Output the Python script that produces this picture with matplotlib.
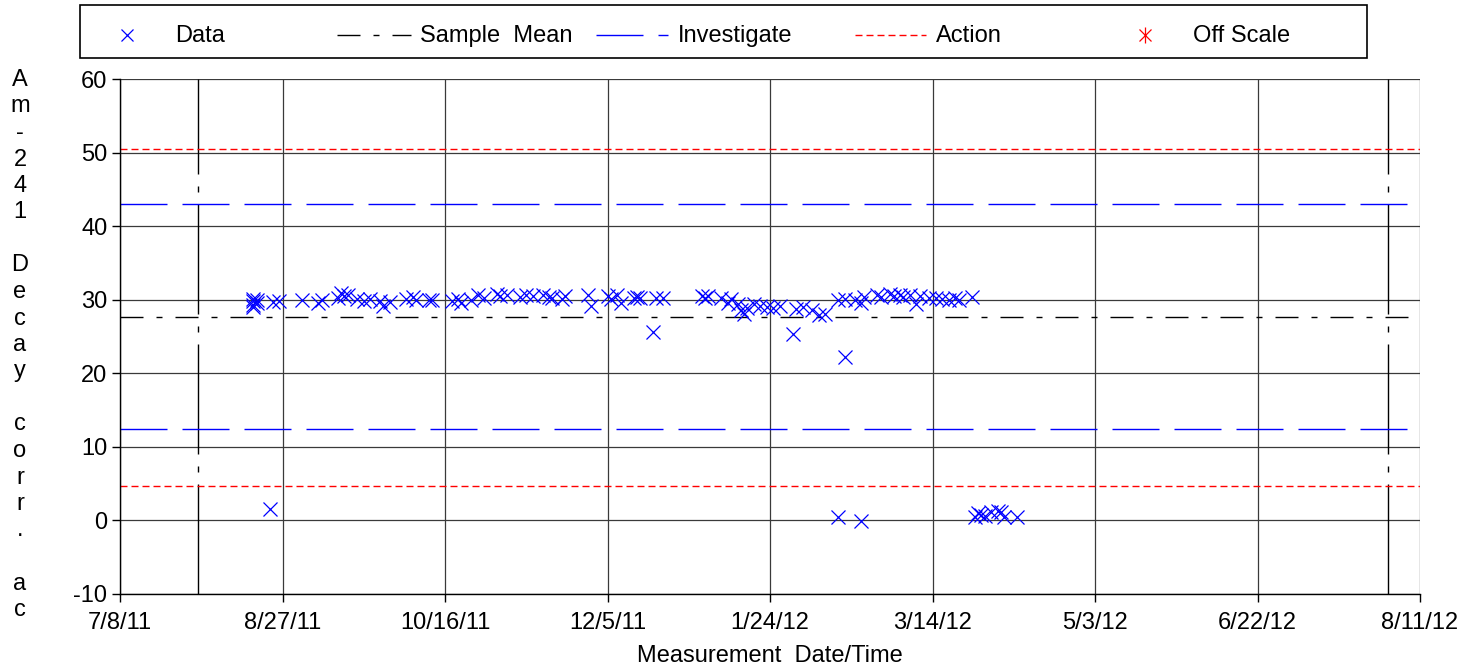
import matplotlib
matplotlib.use("Agg")
import matplotlib.pyplot as plt
from matplotlib.patches import Rectangle
from matplotlib.lines import Line2D
import datetime as dt

plt.rcParams['font.family'] = ['Liberation Sans', 'DejaVu Sans']

# ---------------- data ----------------
dates = ["2011-08-18", "2011-08-18", "2011-08-18", "2011-08-19", "2011-08-18", "2011-08-19",
         "2011-08-23", "2011-08-24", "2011-08-26", "2011-09-02", "2011-09-07", "2011-09-08",
         "2011-09-13", "2011-09-14", "2011-09-15", "2011-09-16", "2011-09-19", "2011-09-21",
         "2011-09-23", "2011-09-26", "2011-09-27", "2011-09-29", "2011-10-04", "2011-10-06",
         "2011-10-07", "2011-10-11", "2011-10-12", "2011-10-18", "2011-10-20", "2011-10-21",
         "2011-10-24", "2011-10-26", "2011-10-28", "2011-11-01", "2011-11-02", "2011-11-04",
         "2011-11-08", "2011-11-10", "2011-11-12", "2011-11-15", "2011-11-17", "2011-11-18",
         "2011-11-21", "2011-11-22", "2011-11-29", "2011-11-30", "2011-12-05", "2011-12-06",
         "2011-12-08", "2011-12-09", "2011-12-13", "2011-12-14", "2011-12-15", "2011-12-19",
         "2011-12-20", "2011-12-22", "2012-01-03", "2012-01-04", "2012-01-05", "2012-01-09",
         "2012-01-11", "2012-01-12", "2012-01-14", "2012-01-15", "2012-01-16", "2012-01-17",
         "2012-01-19", "2012-01-21", "2012-01-23", "2012-01-25", "2012-01-27", "2012-01-31",
         "2012-02-01", "2012-02-03", "2012-02-06", "2012-02-08", "2012-02-10", "2012-02-14",
         "2012-02-14", "2012-02-16", "2012-02-16", "2012-02-19", "2012-02-21", "2012-02-21",
         "2012-02-22", "2012-02-26", "2012-02-27", "2012-03-01", "2012-03-02", "2012-03-04",
         "2012-03-05", "2012-03-07", "2012-03-09", "2012-03-10", "2012-03-13", "2012-03-15",
         "2012-03-17", "2012-03-19", "2012-03-21", "2012-03-22", "2012-03-26", "2012-03-27",
         "2012-03-28", "2012-03-29", "2012-03-30", "2012-04-01", "2012-04-03", "2012-04-04",
         "2012-04-05", "2012-04-09"]
values = [29.3, 29.8, 30.1, 29.5, 29.0, 29.9,
          1.6, 29.7, 29.8, 30.0, 29.6, 29.9,
          30.3, 30.9, 30.5, 30.6, 30.1, 29.8,
          30.1, 29.8, 29.1, 29.7, 30.1, 30.4,
          30.0, 29.9, 30.0, 29.8, 30.1, 29.6,
          30.0, 30.6, 30.3, 30.8, 30.5, 30.6,
          30.4, 30.7, 30.5, 30.7, 30.4, 30.3,
          30.1, 30.5, 30.6, 29.2, 30.5, 30.1,
          30.6, 29.6, 30.2, 30.4, 30.3, 25.6,
          30.3, 30.3, 30.5, 30.3, 30.5, 30.2,
          29.6, 30.1, 29.4, 28.6, 28.1, 28.9,
          29.4, 29.2, 29.0, 28.9, 29.2, 25.4,
          28.8, 29.0, 28.6, 27.9, 28.1, 30.0,
          0.5, 30.1, 22.2, 30.0, 29.6, -0.1,
          30.4, 30.6, 30.4, 30.8, 30.5, 30.7,
          30.4, 30.6, 29.4, 30.5, 30.2, 30.3,
          30.1, 29.9, 30.2, 30.0, 30.4, 0.5,
          1.0, 0.8, 0.6, 1.2, 1.3, 1.1,
          0.4, 0.5]

sample_mean = 27.6
investigate_limits = [12.4, 43.0]
action_limits = [4.7, 50.5]
range_bounds = ["2011-08-01", "2012-08-01"]

x_start, x_end = "2011-07-08", "2012-08-11"
x_tick_dates = ["2011-07-08", "2011-08-27", "2011-10-16", "2011-12-05", "2012-01-24",
                "2012-03-14", "2012-05-03", "2012-06-22", "2012-08-11"]
x_tick_labels = ["7/8/11", "8/27/11", "10/16/11", "12/5/11", "1/24/12",
                 "3/14/12", "5/3/12", "6/22/12", "8/11/12"]
y_ticks = [-10, 0, 10, 20, 30, 40, 50, 60]
y_label = "Am-241 Decay corr. ac"
x_label = "Measurement  Date/Time"
legend_labels = ["Data", "Sample  Mean", "Investigate", "Action", "Off Scale"]

# ---------------- figure ----------------
W, H = 1480, 669
FS = 17
fig = plt.figure(figsize=(W / 100, H / 100), dpi=100)

def px2pt(*vals):
    return tuple(v * 0.72 for v in vals)

ax_l, ax_r, ax_t, ax_b = 120, 1420, 79, 594
ax = fig.add_axes([ax_l / W, 1 - ax_b / H, (ax_r - ax_l) / W, (ax_b - ax_t) / H])

to_dt = lambda s: dt.datetime.strptime(s, "%Y-%m-%d")
xd = [to_dt(s) for s in dates]

grid_color = "#3a3a3a"
ax.set_xlim(to_dt(x_start), to_dt(x_end))
ax.set_ylim(y_ticks[0], y_ticks[-1])
ax.set_xticks([to_dt(s) for s in x_tick_dates])
ax.set_xticklabels(x_tick_labels)
ax.set_yticks(y_ticks)
ax.set_yticklabels([str(v) for v in y_ticks])
ax.grid(True, color=grid_color, linewidth=0.9)
ax.set_axisbelow(True)
for side in ["top", "right"]:
    ax.spines[side].set_visible(False)
for side in ["left", "bottom"]:
    ax.spines[side].set_color("black")
    ax.spines[side].set_linewidth(1.0)
ax.tick_params(axis="both", direction="out", length=6, width=1, labelsize=FS, pad=3)
ax.tick_params(axis="x", pad=7)

mean_style = (0, px2pt(23, 13, 6, 13))
inv_style = (0, px2pt(47, 15))
act_style = (0, px2pt(7, 4))
range_style = (0, px2pt(110, 12, 6, 12))

for b in range_bounds:
    ax.axvline(to_dt(b), color="black", linewidth=1.0, linestyle=range_style)
ax.axhline(sample_mean, color="black", linewidth=1.0, linestyle=mean_style)
for v in investigate_limits:
    ax.axhline(v, color="#0000ff", linewidth=1.0, linestyle=inv_style)
for v in action_limits:
    ax.axhline(v, color="#ff0000", linewidth=1.0, linestyle=act_style)

ax.plot(xd, values, linestyle="none", marker="x", markersize=10, markeredgewidth=0.9,
        color="#0000ff", zorder=5)

# ---------------- y label (stacked characters) ----------------
for i, ch in enumerate(y_label):
    if ch == " ":
        continue
    fig.text(20 / W, 1 - (80 + i * 26.5) / H, ch, ha="center", va="center", fontsize=FS)

fig.text((ax_l + ax_r) / 2 / W, 1 - 656 / H, x_label, ha="center", va="center", fontsize=FS)

# ---------------- legend box ----------------
lg = fig.add_axes([0, 0, 1, 1], facecolor="none")
lg.set_xlim(0, W)
lg.set_ylim(H, 0)
lg.axis("off")
lg.add_patch(Rectangle((80, 5), 1287, 53, fill=False, edgecolor="black", linewidth=1.2))
ly = 35
lg.plot([127], [ly], marker="x", markersize=9, markeredgewidth=0.9, color="#0000ff", linestyle="none")
lg.add_line(Line2D([337, 411], [ly, ly], color="black", linewidth=1.0, linestyle=mean_style))
lg.add_line(Line2D([596, 668], [ly, ly], color="#0000ff", linewidth=1.0, linestyle=inv_style))
lg.add_line(Line2D([855, 926], [ly, ly], color="#ff0000", linewidth=1.0, linestyle=act_style))
lg.plot([1145], [ly], marker="x", markersize=9, markeredgewidth=0.9, color="#ff0000", linestyle="none")
lg.plot([1145], [ly], marker="|", markersize=12, markeredgewidth=0.9, color="#ff0000", linestyle="none")
for xpos, txt in zip([175, 420, 678, 936, 1193], legend_labels):
    lg.text(xpos, ly + 1, txt, ha="left", va="center", fontsize=FS)

fig.savefig("out.png", dpi=100)
